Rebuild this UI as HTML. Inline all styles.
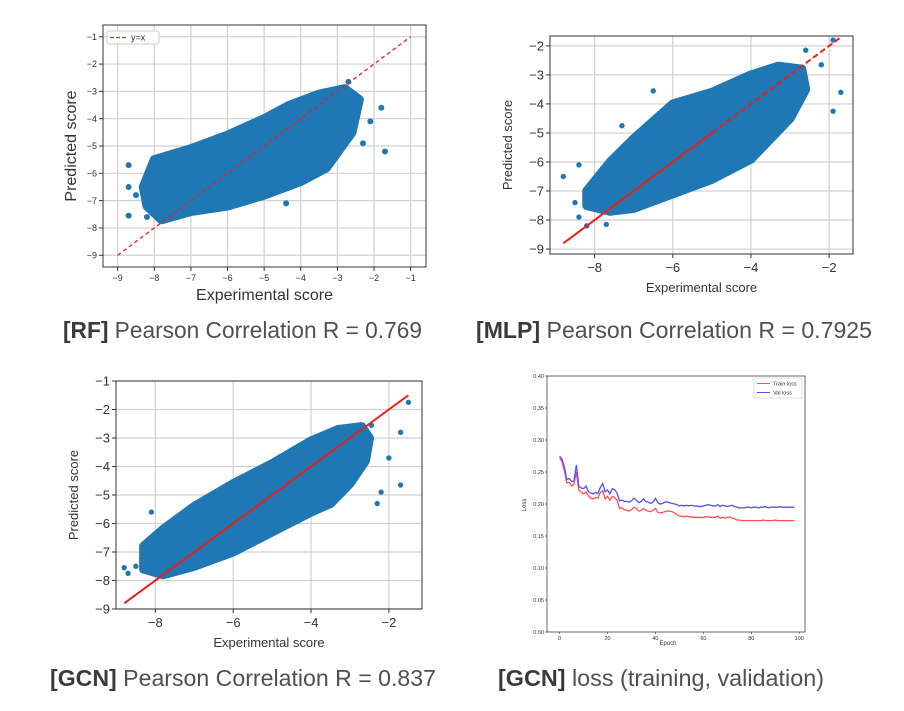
<!DOCTYPE html>
<html><head><meta charset="utf-8"><style>
html,body{margin:0;padding:0;background:#fff;}
svg{display:block;font-family:"Liberation Sans","NanumGothic",sans-serif;}
</style></head><body>
<svg id="fig" width="904" height="711" viewBox="0 0 904 711" xmlns="http://www.w3.org/2000/svg">
<rect width="904" height="711" fill="#fff"/>
<text x="63" y="338" font-size="23" fill="#505050" textLength="359" lengthAdjust="spacingAndGlyphs"><tspan font-weight="bold" fill="#3a3a3a">[RF]</tspan> Pearson Correlation R = 0.769</text>
<text x="476" y="338" font-size="23" fill="#505050" textLength="396" lengthAdjust="spacingAndGlyphs"><tspan font-weight="bold" fill="#3a3a3a">[MLP]</tspan> Pearson Correlation R = 0.7925</text>
<text x="50" y="686" font-size="23" fill="#505050" textLength="386" lengthAdjust="spacingAndGlyphs"><tspan font-weight="bold" fill="#3a3a3a">[GCN]</tspan> Pearson Correlation R = 0.837</text>
<text x="498" y="686" font-size="23" fill="#505050" textLength="326" lengthAdjust="spacingAndGlyphs"><tspan font-weight="bold" fill="#3a3a3a">[GCN]</tspan> loss (training, validation)</text>
</svg>
<script>
// ---- data ----
const rfXTicks=[-9,-8,-7,-6,-5,-4,-3,-2,-1];
const rfYTicks=[-9,-8,-7,-6,-5,-4,-3,-2,-1];
const rfCloudX=[-8,-7,-6,-5,-4.3,-3.5,-2.8,-2.4,-2.6,-3.3,-4,-5,-6,-7,-7.8,-8.2,-8.3];
const rfCloudY=[-5.5,-5.1,-4.6,-4.0,-3.5,-3.1,-2.9,-3.3,-4.5,-5.8,-6.3,-6.8,-7.2,-7.4,-7.7,-7.2,-6.5];
const rfOutX=[-8.7,-8.7,-8.7,-8.5,-1.7,-1.8,-2.1,-4.4,-2.7,-8.2,-2.3];
const rfOutY=[-5.7,-6.5,-7.55,-6.8,-5.2,-3.6,-4.1,-7.1,-2.65,-7.6,-4.9];

const mlpXTicks=[-8,-6,-4,-2];
const mlpYTicks=[-9,-8,-7,-6,-5,-4,-3,-2];
const mlpCloudX=[-8.2,-7.6,-7,-6.5,-6,-5,-4,-3.3,-2.7,-2.6,-3,-3.5,-4,-5,-6,-7,-7.6,-8.2];
const mlpCloudY=[-7.0,-6.0,-5.2,-4.6,-4.0,-3.6,-3.0,-2.7,-2.8,-3.5,-4.5,-5.2,-5.9,-6.6,-7.1,-7.6,-7.7,-7.5];
const mlpOutX=[-8.8,-8.4,-8.5,-8.4,-8.2,-7.7,-1.9,-1.7,-1.9,-2.2,-6.5,-7.3,-2.6];
const mlpOutY=[-6.5,-6.1,-7.4,-7.9,-8.2,-8.15,-1.8,-3.6,-4.25,-2.65,-3.55,-4.75,-2.15];

const gcnXTicks=[-8,-6,-4,-2];
const gcnYTicks=[-9,-8,-7,-6,-5,-4,-3,-2,-1];
const gcnCloudX=[-8.3,-7.8,-7,-6,-5,-4,-3.3,-2.7,-2.5,-2.6,-3,-3.5,-4,-5,-6,-7,-7.8,-8.3];
const gcnCloudY=[-6.8,-6.2,-5.4,-4.6,-3.9,-3.1,-2.7,-2.6,-3.0,-3.8,-4.6,-5.3,-5.6,-6.3,-7.0,-7.5,-7.8,-7.6];
const gcnOutX=[-8.8,-8.7,-8.5,-8.1,-1.5,-1.7,-1.7,-2.0,-2.2,-2.3,-2.45];
const gcnOutY=[-7.55,-7.75,-7.5,-5.6,-1.75,-2.8,-4.65,-3.7,-4.9,-5.3,-2.55];

const lossXTicks=[0,20,40,60,80,100];
const lossYTicks=[0.00,0.05,0.10,0.15,0.20,0.25,0.30,0.35,0.40];
const trainLoss=[.272,.266,.252,.233,.234,.228,.231,.250,.222,.219,
.216,.219,.213,.209,.208,.210,.209,.218,.221,.208,
.212,.206,.212,.210,.206,.193,.194,.191,.190,.189,
.191,.195,.193,.189,.190,.193,.190,.189,.188,.190,
.193,.187,.186,.187,.188,.189,.189,.188,.186,.183,
.181,.181,.180,.181,.180,.180,.179,.179,.179,.179,
.179,.180,.180,.179,.179,.179,.181,.178,.179,.178,
.179,.180,.178,.177,.175,.175,.174,.174,.174,.174,
.174,.174,.174,.174,.174,.175,.174,.174,.174,.174,
.175,.174,.174,.174,.174,.174,.174,.174,.174];
const valLoss=[.275,.270,.258,.238,.240,.235,.236,.261,.228,.225,
.224,.228,.220,.217,.216,.218,.216,.226,.232,.219,
.222,.216,.224,.222,.217,.205,.206,.204,.204,.203,
.205,.209,.206,.202,.204,.208,.204,.203,.201,.203,
.209,.202,.200,.201,.203,.203,.202,.201,.200,.199,
.197,.198,.197,.198,.197,.198,.197,.197,.196,.196,
.197,.198,.199,.198,.197,.197,.199,.196,.198,.197,
.196,.197,.198,.196,.195,.194,.194,.194,.195,.195,
.194,.195,.195,.194,.195,.195,.196,.194,.195,.195,
.195,.195,.196,.195,.195,.195,.195,.195,.195];

// ---- drawing ----
const NS="http://www.w3.org/2000/svg";
const svg=document.getElementById('fig');
function mk(tag,attrs,parent){const e=document.createElementNS(NS,tag);for(const k in attrs)e.setAttribute(k,attrs[k]);(parent||svg).appendChild(e);return e;}
function lin(d0,d1,p0,p1){return v=>p0+(v-d0)/(d1-d0)*(p1-p0);}
const BLUE="#1f77b4";

function scatterPanel(p){
  const g=mk('g',{});
  
  
  const sx=lin(p.xd[0],p.xd[1],p.box[0],p.box[2]);
  const sy=lin(p.yd[0],p.yd[1],p.box[3],p.box[1]);
  p.xt.forEach(t=>{
    const l=mk('line',{x1:sx(t),x2:sx(t),y1:p.box[1],y2:p.box[3],stroke:"#d0d0d0","stroke-width":1.2},g);
    
    
    mk('line',{x1:sx(t),x2:sx(t),y1:p.box[3],y2:p.box[3]+4,stroke:"#333"},g);
    const tx=mk('text',{x:sx(t),y:p.box[3]+5+p.fs,"font-size":p.fs,"text-anchor":"middle",fill:"#333"},g);
    tx.textContent='\u2212'+Math.abs(t);
    
    
  });
  p.yt.forEach(t=>{
    const l=mk('line',{y1:sy(t),y2:sy(t),x1:p.box[0],x2:p.box[2],stroke:"#d0d0d0","stroke-width":1.2},g);
    
    
    mk('line',{y1:sy(t),y2:sy(t),x1:p.box[0]-4,x2:p.box[0],stroke:"#333"},g);
    const tx=mk('text',{x:p.box[0]-6,y:sy(t)+p.fs*0.35,"font-size":p.fs,"text-anchor":"end",fill:"#333"},g);
    tx.textContent='\u2212'+Math.abs(t);
    
    
  });
  const pts=p.cx.map((x,i)=>sx(x)+','+sy(p.cy[i])).join(' ');
  const cloud=mk('polygon',{points:pts,fill:BLUE,stroke:BLUE,"stroke-width":9,"stroke-linejoin":"round"},g);
  
  
  p.ox.forEach((x,i)=>{
    const c=mk('circle',{cx:sx(x),cy:sy(p.oy[i]),r:p.r,fill:BLUE},g);
    
    
  });
  p.lines.forEach(s=>{
    const l=mk('line',{x1:sx(s[0]),y1:sy(s[0]),x2:sx(s[1]),y2:sy(s[1]),stroke:"#e8201c","stroke-width":s[3],"stroke-dasharray":s[2]},g);
    
    
  });
  const fr=mk('rect',{x:p.box[0],y:p.box[1],width:p.box[2]-p.box[0],height:p.box[3]-p.box[1],fill:"none",stroke:"#333","stroke-width":1},g);
  
  
  const xl=mk('text',{x:(p.box[0]+p.box[2])/2,y:p.xly,"font-size":p.lfs,"text-anchor":"middle",fill:"#333"},g);
  xl.textContent='Experimental score';
  
  
  const cy=(p.box[1]+p.box[3])/2;
  const yl=mk('text',{x:p.ylx,y:cy,"font-size":p.lfs,"text-anchor":"middle",fill:"#333",transform:`rotate(-90 ${p.ylx} ${cy})`},g);
  yl.textContent='Predicted score';
  
  
  return g;
}

const rf=scatterPanel({name:'rf',box:[103,25,426,267],xd:[-9.4,-0.58],yd:[-9.43,-0.57],xt:rfXTicks,yt:rfYTicks,fs:9,lfs:16,xly:300,ylx:76,
  cx:rfCloudX,cy:rfCloudY,ox:rfOutX,oy:rfOutY,r:3,lines:[[-9,-1,"4,3",1.3]]});
const lg=mk('g',{},rf);


mk('rect',{x:107,y:31,width:52,height:13,fill:"#fff",stroke:"#ccc",rx:2},lg);
mk('line',{x1:110,x2:126,y1:37.5,y2:37.5,stroke:"#e8201c","stroke-width":1.3,"stroke-dasharray":"4,2"},lg);
const lgt=mk('text',{x:131,y:40.5,"font-size":9,fill:"#333"},lg);
lgt.textContent='y=x';

scatterPanel({name:'mlp',box:[550,36,853,254],xd:[-9.14,-1.39],yd:[-9.17,-1.66],xt:mlpXTicks,yt:mlpYTicks,fs:13,lfs:13,xly:292,ylx:512,
  cx:mlpCloudX,cy:mlpCloudY,ox:mlpOutX,oy:mlpOutY,r:2.7,lines:[[-8.8,-5,"none",2],[-5,-1.7,"6,3",2]]});

scatterPanel({name:'gcn',box:[116,381,422,609],xd:[-9.01,-1.15],yd:[-9,-1],xt:gcnXTicks,yt:gcnYTicks,fs:13,lfs:13,xly:647,ylx:78,
  cx:gcnCloudX,cy:gcnCloudY,ox:gcnOutX,oy:gcnOutY,r:2.7,lines:[[-8.8,-1.5,"none",2]]});

// loss chart
(function(){
  const box=[547,376,805,632];
  const g=mk('g',{});
  
  
  const sx=lin(-5.25,102.4,box[0],box[2]);
  const sy=lin(0,0.4,box[3],box[1]);
  lossXTicks.forEach(t=>{
    mk('line',{x1:sx(t),x2:sx(t),y1:box[3],y2:box[3]+2,stroke:"#333","stroke-width":0.6},g);
    const tx=mk('text',{x:sx(t),y:box[3]+8,"font-size":5.5,"text-anchor":"middle",fill:"#333"},g);
    tx.textContent=t;
    
    
  });
  lossYTicks.forEach(t=>{
    mk('line',{y1:sy(t),y2:sy(t),x1:box[0]-2,x2:box[0],stroke:"#333","stroke-width":0.6},g);
    const tx=mk('text',{x:box[0]-3,y:sy(t)+2,"font-size":5.5,"text-anchor":"end",fill:"#333"},g);
    tx.textContent=t.toFixed(2);
    
    
  });
  const tp=mk('polyline',{points:trainLoss.map((v,i)=>sx(i)+','+sy(v)).join(' '),fill:"none",stroke:"#ff5050","stroke-width":1.3},g);
  
  
  const vp=mk('polyline',{points:valLoss.map((v,i)=>sx(i)+','+sy(v)).join(' '),fill:"none",stroke:"#5050ff","stroke-width":1.3},g);
  
  
  const fr=mk('rect',{x:box[0],y:box[1],width:box[2]-box[0],height:box[3]-box[1],fill:"none",stroke:"#444","stroke-width":0.8},g);
  
  
  const lg=mk('g',{},g);
  
  
  mk('rect',{x:754,y:378,width:48,height:20,fill:"#fff",stroke:"#ccc","stroke-width":0.6},lg);
  mk('line',{x1:757,x2:770,y1:383.5,y2:383.5,stroke:"#ff5050","stroke-width":1},lg);
  mk('line',{x1:757,x2:770,y1:392.5,y2:392.5,stroke:"#5050ff","stroke-width":1},lg);
  const t1=mk('text',{x:773,y:385.5,"font-size":5.5,fill:"#333"},lg); t1.textContent='Train loss';
  const t2=mk('text',{x:773,y:394.5,"font-size":5.5,fill:"#333"},lg); t2.textContent='Val loss';
  const xl=mk('text',{x:668,y:645,"font-size":6,"text-anchor":"middle",fill:"#333"},g);
  xl.textContent='Epoch';
  
  
  const yl=mk('text',{x:526,y:505,"font-size":6,"text-anchor":"middle",fill:"#333",transform:"rotate(-90 526 505)"},g);
  yl.textContent='Loss';
  
  
})();
</script>
</body></html>
